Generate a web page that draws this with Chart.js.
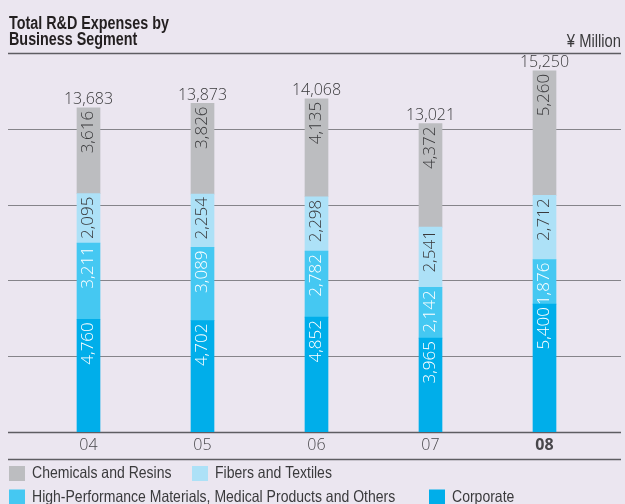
<!DOCTYPE html>
<html>
<head>
<meta charset="utf-8">
<script src="https://cdn.jsdelivr.net/npm/chart.js@4.4.1/dist/chart.umd.min.js"></script>
<style>
  html, body { margin: 0; padding: 0; background: #ebe6f0; }
  #wrap { width: 625px; height: 504px; position: relative; }
</style>
</head>
<body>
<div id="wrap"><canvas id="rdChart"></canvas></div>
<script>
// values in ¥ million
const years = ["04", "05", "06", "07", "08"];
const corporate = [4760, 4702, 4852, 3965, 5400];
const highPerformance = [3211, 3089, 2782, 2142, 1876];
const fibers = [2095, 2254, 2298, 2541, 2712];
const chemicals = [3616, 3826, 4135, 4372, 5260];
const totals = [13683, 13873, 14068, 13021, 15250];

const titleLines = ["Total R&D Expenses by", "Business Segment"];
const unitLabel = "¥ Million";

const sans = "'Liberation Sans', Arial, sans-serif";
const numFont = "'Open Sans', sans-serif";

const fmt = v => v.toLocaleString("en-US");

// legend item slots (row, x of the box)
const legendSlots = [
  { x: 9, row: 0 }, { x: 192, row: 0 },
  { x: 9, row: 1 }, { x: 429, row: 1 }
];

// no narrow face installed, so squeeze Liberation Sans sideways
function narrowText(ctx, text, x, y, align, squeeze) {
  ctx.save();
  ctx.translate(x, y);
  ctx.scale(squeeze || 0.82, 1);
  ctx.textAlign = align;
  ctx.fillText(text, 0, 0);
  ctx.restore();
}

const decor = {
  id: "decor",
  beforeDatasetsDraw(chart) {
    const { ctx, scales: { x, y } } = chart;
    ctx.save();
    y.ticks.forEach(t => {
      const py = Math.round(y.getPixelForValue(t.value)) + 0.5;
      const edge = t.value === 0 || t.value === y.max;
      ctx.strokeStyle = edge ? "#5e5d62" : "#85848a";
      ctx.lineWidth = edge ? 1.4 : 1.2;
      ctx.beginPath();
      ctx.moveTo(8, py);
      ctx.lineTo(621, py);
      ctx.stroke();
    });
    // rule under the year labels
    const by = Math.round(x.bottom) + 0.5;
    ctx.strokeStyle = "#5e5d62";
    ctx.lineWidth = 1.4;
    ctx.beginPath();
    ctx.moveTo(8, by);
    ctx.lineTo(621, by);
    ctx.stroke();
    ctx.restore();
  },
  afterDatasetsDraw(chart) {
    const ctx = chart.ctx;
    ctx.save();
    chart.data.datasets.forEach((ds, di) => {
      const meta = chart.getDatasetMeta(di);
      meta.data.forEach((bar, i) => {
        const p = bar.getProps(["x", "y"], true);
        ctx.save();
        ctx.translate(p.x, p.y);
        ctx.rotate(-Math.PI / 2);
        ctx.font = "300 17px " + numFont;
        ctx.fillStyle = ds.labelColor;
        ctx.textAlign = "right";
        ctx.textBaseline = "middle";
        ctx.fillText(fmt(ds.data[i]), -3, 0);
        ctx.restore();
      });
    });
    // totals above the stacks
    const top = chart.getDatasetMeta(chart.data.datasets.length - 1);
    ctx.font = "300 16px " + numFont;
    ctx.fillStyle = "#3a3a3c";
    ctx.textAlign = "center";
    ctx.textBaseline = "alphabetic";
    top.data.forEach((bar, i) => {
      const p = bar.getProps(["x", "y"], true);
      ctx.fillText(fmt(totals[i]), p.x, p.y - 3.5);
    });
    ctx.restore();
  },
  afterDraw(chart) {
    const { ctx, scales: { x } } = chart;
    ctx.save();
    ctx.textBaseline = "alphabetic";
    // title
    ctx.fillStyle = "#231f20";
    ctx.font = "bold 17.5px " + sans;
    narrowText(ctx, titleLines[0], 9, 29, "left");
    narrowText(ctx, titleLines[1], 9, 45, "left");
    // unit
    ctx.font = "18px " + sans;
    ctx.fillStyle = "#3a3a3c";
    narrowText(ctx, unitLabel, 621, 47, "right");
    // legend
    const items = chart.data.datasets.slice().reverse();
    ctx.font = "16.5px " + sans;
    ctx.textBaseline = "middle";
    items.forEach((ds, k) => {
      const slot = legendSlots[k];
      const cy = x.bottom + 14.5 + slot.row * 23.5;
      ctx.fillStyle = ds.backgroundColor;
      ctx.fillRect(slot.x, cy - 7.5, 16, 15);
      ctx.fillStyle = "#3a3a3c";
      narrowText(ctx, ds.label, slot.x + 23, cy, "left", 0.85);
    });
    ctx.restore();
  }
};

new Chart(document.getElementById("rdChart"), {
  type: "bar",
  data: {
    labels: years,
    datasets: [
      { label: "Corporate", data: corporate, backgroundColor: "#00aeea", labelColor: "#ffffff" },
      { label: "High-Performance Materials, Medical Products and Others", data: highPerformance, backgroundColor: "#45c8f2", labelColor: "#ffffff" },
      { label: "Fibers and Textiles", data: fibers, backgroundColor: "#ade1f7", labelColor: "#3a3a3c" },
      { label: "Chemicals and Resins", data: chemicals, backgroundColor: "#bcbdc0", labelColor: "#3a3a3c" }
    ]
  },
  options: {
    responsive: true,
    maintainAspectRatio: false,
    animation: false,
    barThickness: 23,
    layout: { padding: { left: 9, right: 23.5, top: 53, bottom: 45 } },
    plugins: {
      legend: { display: false },
      tooltip: { enabled: false },
      title: { display: false }
    },
    scales: {
      x: {
        stacked: true,
        grid: { display: false, drawTicks: false },
        border: { display: false },
        ticks: {
          padding: 4,
          color: "#48474b",
          font: ctx => ({ family: numFont, size: 16, weight: ctx.index === years.length - 1 ? "bold" : "300" })
        },
        afterFit: s => { s.height = 27; }
      },
      y: {
        stacked: true,
        min: 0,
        max: 16000,
        ticks: { display: false, stepSize: 3200 },
        grid: { display: false, drawTicks: false },
        border: { display: false },
        afterFit: s => { s.width = 22.5; }
      }
    }
  },
  plugins: [decor]
});
</script>
</body>
</html>
